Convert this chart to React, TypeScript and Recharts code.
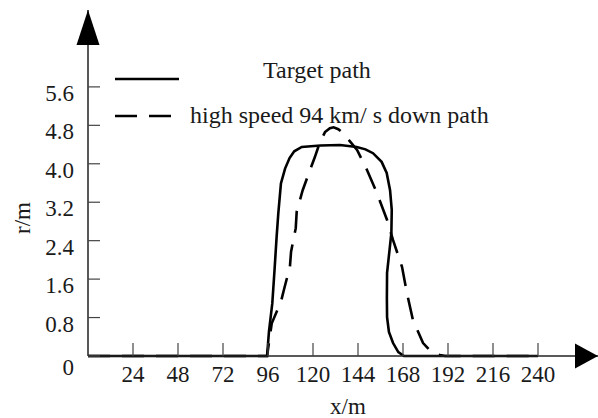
import React from 'react';
import { LineChart, Line, XAxis, YAxis, Legend, ReferenceDot } from 'recharts';

// ---------- data ----------
const xTicks = [24, 48, 72, 96, 120, 144, 168, 192, 216, 240];
const yTicks = [0, 0.8, 1.6, 2.4, 3.2, 4.0, 4.8, 5.6];
const yTickLabels = ['0', '0.8', '1.6', '2.4', '3.2', '4.0', '4.8', '5.6'];

const seriesNames = ['Target path', 'high speed 94 km/ s down path'];

const targetX = [0, 95.5, 96.5, 98.3, 99.5, 100.6, 101.5, 102.9, 105.1, 107.5, 110, 114, 124, 134.4, 143.3, 148, 152, 156.6, 159.3, 161.1, 162, 161.8, 160.8, 159.5, 159.4, 159.5, 160.5, 162.7, 165.5, 168.5, 240];
const targetR = [0, 0, 0.5, 1.1, 1.8, 2.48, 2.97, 3.59, 3.9, 4.12, 4.26, 4.35, 4.38, 4.39, 4.35, 4.3, 4.22, 4.04, 3.81, 3.45, 3.04, 2.56, 2.2, 1.73, 1.2, 0.81, 0.5, 0.27, 0.08, 0, 0];

const downX = [0, 95.5, 98, 102.9, 104.7, 107.7, 108.3, 110.8, 111.3, 114.5, 118.4, 121, 123.7, 126.4, 129, 131, 133.5, 136, 143.5, 148.8, 154.1, 159.5, 162.7, 167.5, 170.1, 173.3, 178.7, 183, 187.7, 190.4, 240];
const downR = [0, 0, 0.68, 1.13, 1.41, 1.86, 2.17, 2.66, 3.0, 3.45, 3.87, 4.14, 4.45, 4.66, 4.74, 4.76, 4.72, 4.64, 4.29, 3.87, 3.39, 2.83, 2.41, 1.85, 1.31, 0.75, 0.27, 0.09, 0.02, 0, 0];

const targetData = targetX.map((x, i) => ({ x, r: targetR[i] }));
const downData = downX.map((x, i) => ({ x, r: downR[i] }));

// ---------- style ----------
const FONT = '"Liberation Serif", "Times New Roman", serif';
const FS = 23;
const LFS = 24;
const TEXT = '#1a1a1a';
const AXIS = '#222';
const TICKC = '#444';

const seriesStyle = [
  { dash: undefined as string | undefined },
  { dash: '22 12' },
];

const XTick = (props: any) => {
  const { x, y, payload } = props;
  return (
    <g>
      <line x1={x} y1={y} x2={x} y2={y - 13} stroke={TICKC} strokeWidth={1.2} />
      <text x={x} y={y + 26} textAnchor="middle" fontFamily={FONT} fontSize={FS} fill={TEXT}>
        {payload.value}
      </text>
    </g>
  );
};

const YTick = (props: any) => {
  const { x, y, payload, index } = props;
  const label = yTickLabels[index] ?? String(payload.value);
  const dy = payload.value === 0 ? 19 : 14;
  return (
    <g>
      <line x1={x} y1={y} x2={x + 12} y2={y} stroke={TICKC} strokeWidth={1.2} />
      <text x={x - 14} y={y + dy} textAnchor="end" fontFamily={FONT} fontSize={FS} fill={TEXT}>
        {label}
      </text>
    </g>
  );
};

const XLabel = (props: any) => {
  const vb = props.viewBox || { x: 88, y: 356, width: 510, height: 62 };
  return (
    <text x={vb.x + 260} y={vb.y + 58} textAnchor="middle" fontFamily={FONT} fontSize={FS} fill={TEXT}>
      x/m
    </text>
  );
};

const YLabel = (props: any) => {
  const vb = props.viewBox || { x: 0, y: 10, width: 88, height: 346 };
  const cx = vb.x + 30;
  const cy = vb.y + 208;
  return (
    <text x={cx} y={cy} transform={`rotate(-90, ${cx}, ${cy})`} textAnchor="middle" fontFamily={FONT} fontSize={FS} fill={TEXT}>
      r/m
    </text>
  );
};

const renderLegend = (props: any) => {
  const payload = props.payload || [];
  const names = seriesNames.map((n, i) => (payload[i] && payload[i].value) || n);
  return (
    <svg width={420} height={80} style={{ display: 'block', overflow: 'visible' }}>
      <line x1={15} y1={24} x2={79} y2={24} stroke="#000" strokeWidth={2.6} />
      <text x={163} y={23} fontFamily={FONT} fontSize={LFS} fill={TEXT}>{names[0]}</text>
      <line x1={15} y1={61} x2={71} y2={61} stroke="#000" strokeWidth={2.6} strokeDasharray="22 12" />
      <text x={90} y={68} fontFamily={FONT} fontSize={LFS} fill={TEXT}>{names[1]}</text>
    </svg>
  );
};

const XArrow = (props: any) => {
  const { cx, cy } = props;
  return <polygon points={`${cx},${cy} ${cx - 23},${cy - 12.5} ${cx - 23},${cy + 12.5}`} fill="#000" />;
};

const YArrow = (props: any) => {
  const { cx, cy } = props;
  return <polygon points={`${cx},${cy} ${cx - 11.5},${cy + 35} ${cx + 11.5},${cy + 35}`} fill="#000" />;
};

export default function App() {
  return (
    <div style={{ position: 'absolute', left: 0, top: 0, width: 598, height: 418, background: '#fff' }}>
      <LineChart width={598} height={418} margin={{ top: 10, right: 0, bottom: 0, left: 0 }}>
        <XAxis
          type="number"
          dataKey="x"
          domain={[0, 272]}
          ticks={xTicks}
          interval={0}
          height={62}
          tickSize={0}
          tickMargin={0}
          tickLine={false}
          axisLine={{ stroke: AXIS, strokeWidth: 1.5 }}
          tick={<XTick />}
          label={<XLabel />}
        />
        <YAxis
          type="number"
          dataKey="r"
          domain={[0, 7.2]}
          ticks={yTicks}
          interval={0}
          width={88}
          tickSize={0}
          tickMargin={0}
          tickLine={false}
          axisLine={{ stroke: AXIS, strokeWidth: 1.5 }}
          tick={<YTick />}
          label={<YLabel />}
        />
        <Legend
          layout="vertical"
          align="center"
          verticalAlign="middle"
          content={renderLegend}
          wrapperStyle={{ position: 'absolute', left: 100, top: 55, width: 420, height: 80 }}
        />
        <Line
          data={targetData}
          dataKey="r"
          name={seriesNames[0]}
          type="linear"
          stroke="#000"
          strokeWidth={2.6}
          dot={false}
          activeDot={false}
          isAnimationActive={false}
        />
        <Line
          data={downData}
          dataKey="r"
          name={seriesNames[1]}
          type="linear"
          stroke="#000"
          strokeWidth={2.6}
          strokeDasharray={seriesStyle[1].dash}
          dot={false}
          activeDot={false}
          isAnimationActive={false}
        />
        <ReferenceDot x={272} y={0} ifOverflow="visible" shape={<XArrow />} />
        <ReferenceDot x={0} y={7.2} ifOverflow="visible" shape={<YArrow />} />
      </LineChart>
    </div>
  );
}
